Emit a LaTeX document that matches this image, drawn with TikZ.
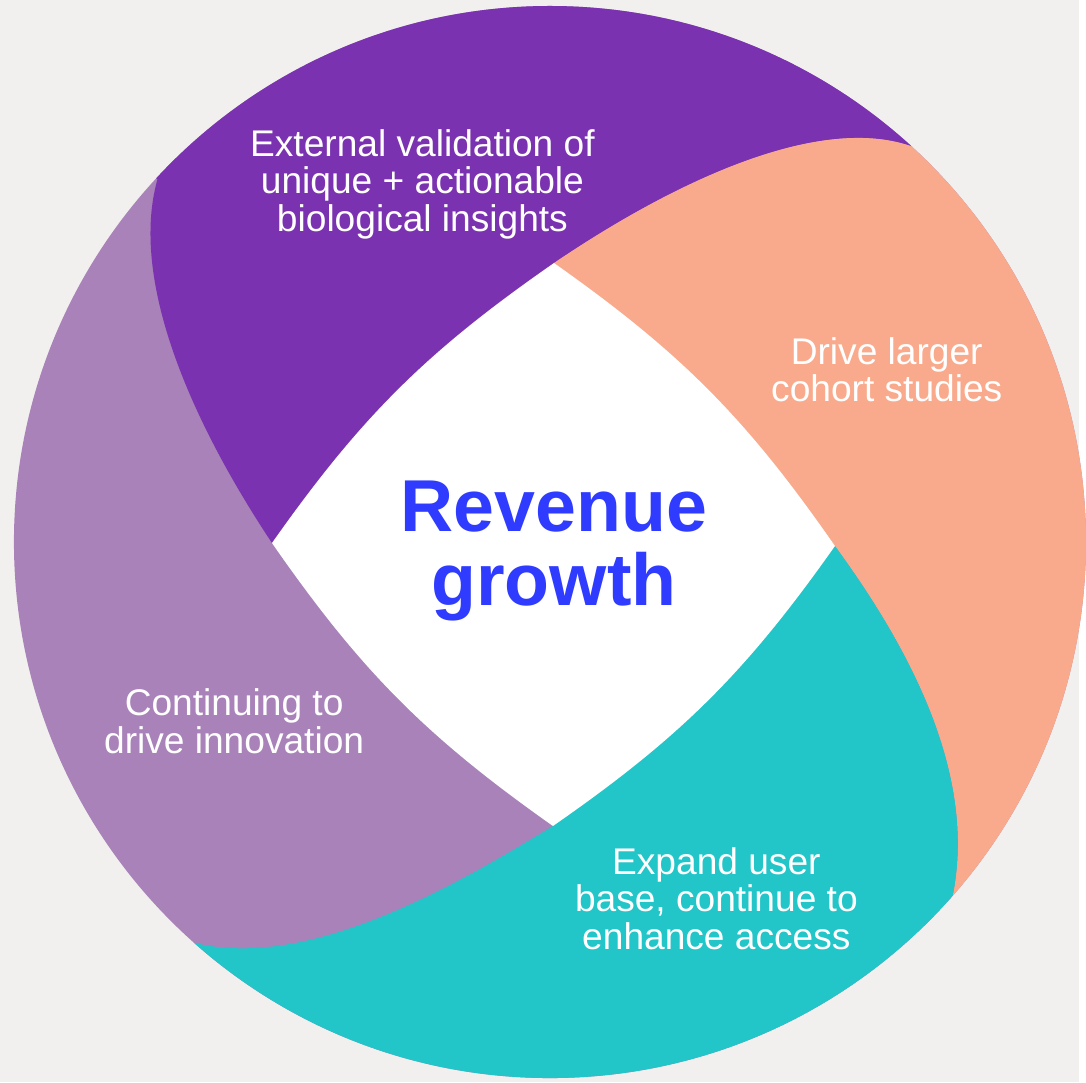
\documentclass[tikz,border=0pt]{standalone}
\usepackage{fontspec}
\setmainfont{Liberation Sans}
\definecolor{bgGray}{HTML}{F2F0EE}
\definecolor{petalPurple}{HTML}{7B32B0}
\definecolor{petalSalmon}{HTML}{F9AA8C}
\definecolor{petalTeal}{HTML}{22C5C8}
\definecolor{petalLilac}{HTML}{A882B8}
\definecolor{hubBlue}{HTML}{2F3CFF}
\tikzset{
  petal/.style={
    % The text:
    text=white,
    align=center,
    % Arial-like, about 10.6pt
    font=\fontsize{10.6}{10.8}\selectfont
  }}
\tikzset{
	hub/.style={
		% big bold title in the middle
		text=hubBlue,align=center,
		font=\bfseries\fontsize{21}{21.3}\selectfont}}

\begin{document}
\begin{tikzpicture}[x=0.1mm,y=-0.1mm]
	\fill[bgGray] (0,0) rectangle (1083,1086);
	\coordinate (c) at (552,544);
	% Corners of the diamond
	\coordinate (d-top) at (556,264);
	\coordinate (d-right) at (838,548);
	\coordinate (d-bottom) at (555,829);
	\coordinate (d-left) at (273,545);
	% Where the petals meet the rim
	\coordinate (rim-nw) at (158,180);
	\coordinate (rim-ne) at (923,150);
	\coordinate (rim-se) at (953,913);
	\coordinate (rim-sw) at (190,945);
	\begin{scope}
		\clip (c) circle[radius=538];
		\fill[petalLilac] (c) circle[radius=540];
		% Top petal
		\fill[petalPurple] (c) -- (d-left)
			.. controls (190,420) and (130,280) .. (rim-nw)
			-- (-40,-2) -- (1110,-50) -- (rim-ne)
			.. controls (830,110) and (680,180) .. (d-top) -- cycle;
		% Right petal
		\fill[petalSalmon] (c) -- (d-top)
			.. controls (680,180) and (830,110) .. (rim-ne)
			-- (1110,-50) -- (1155,1100) -- (rim-se)
			.. controls (985,790) and (920,660) .. (d-right) -- cycle;
		% Bottom petal
		\fill[petalTeal] (c) -- (d-right)
			.. controls (920,660) and (985,790) .. (rim-se)
			-- (1155,1100) -- (10,1146) -- (rim-sw)
			.. controls (300,975) and (440,900) .. (d-bottom) -- cycle;
	\end{scope}
	% The white diamond
	\fill[white] (d-left) to[bend left=10] (d-top) to[bend left=10] (d-right)
		to[bend left=10] (d-bottom) to[bend left=10] (d-left) -- cycle;
	% Labels
	\node[hub] (hub) at (556,553) {Revenue\\growth};
	\node[petal] (ext) at (424,185) {External validation of\\unique + actionable\\biological insights};
	\node[petal] (cohort) at (890,371) {Drive larger\\cohort studies};
	\node[petal] (innov) at (235,724) {Continuing to\\drive innovation};
	\node[petal] (access) at (719,902) {Expand user\\base, continue to\\enhance access};
\end{tikzpicture}
\end{document}
